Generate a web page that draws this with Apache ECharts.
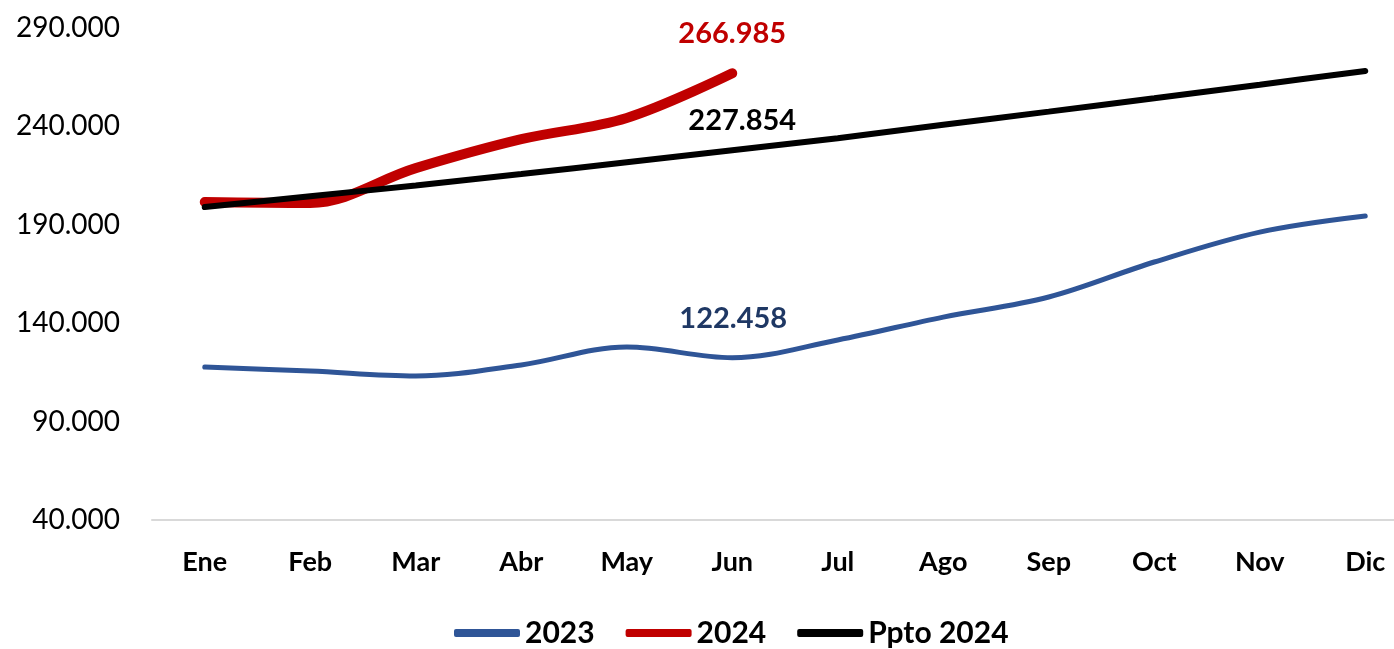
<!DOCTYPE html>
<html>
<head>
<meta charset="utf-8">
<script src="https://cdn.jsdelivr.net/npm/echarts@6/dist/echarts.min.js"></script>
<style>
  html, body { margin: 0; padding: 0; background: #ffffff; }
  #chart { width: 1394px; height: 649px; }
</style>
</head>
<body>
<div id="chart"></div>
<script>
// Monthly categories
const months = ['Ene', 'Feb', 'Mar', 'Abr', 'May', 'Jun', 'Jul', 'Ago', 'Sep', 'Oct', 'Nov', 'Dic'];

// Series values
const values2023 = [117700, 115700, 113200, 118800, 127900, 122458, 131500, 143100, 153300, 171100, 186300, 194500];
const values2024 = [201600, 201100, 218800, 233500, 244300, 266985];
const valuesPpto2024 = [199000, 204500, 210000, 215800, 221800, 227854, 234000, 240800, 247500, 254300, 261200, 268200];

// Value axis ticks
const yTicks = [40000, 90000, 140000, 190000, 240000, 290000];

const labelIndex = 5; // month whose value is written on each line

function fmt(v) {
  return String(Math.round(v)).replace(/\B(?=(\d{3})+(?!\d))/g, '.');
}

function withLabel(values, color, offset) {
  return values.map((v, i) => i === labelIndex ? {
    value: v,
    label: {
      show: true,
      position: 'top',
      offset: offset,
      formatter: p => fmt(p.value),
      color: color,
      fontFamily: 'Lato',
      fontWeight: 'bold',
      fontSize: 29
    }
  } : v);
}

const chart = echarts.init(document.getElementById('chart'), null, { renderer: 'canvas' });

chart.setOption({
  animation: false,
  backgroundColor: '#ffffff',
  grid: { left: 152, top: 28, width: 1266, height: 492, containLabel: false, outerBoundsMode: 'none' },
  legend: {
    top: 613,
    left: 449,
    itemWidth: 66,
    itemHeight: 8,
    itemGap: 31,
    icon: 'roundRect',
    textStyle: { fontFamily: 'Lato', fontWeight: 'bold', fontSize: 30, color: '#000000', padding: [0, 0, 0, 0] },
    data: ['2023', '2024', 'Ppto 2024']
  },
  xAxis: {
    type: 'category',
    data: months,
    boundaryGap: true,
    axisLine: { show: true, lineStyle: { color: '#d9d9d9', width: 2 } },
    axisTick: { show: false },
    axisLabel: {
      margin: 29,
      fontFamily: 'Lato',
      fontWeight: 'bold',
      fontSize: 27,
      color: '#000000'
    },
    splitLine: { show: false }
  },
  yAxis: {
    type: 'value',
    min: yTicks[0],
    max: yTicks[yTicks.length - 1],
    interval: yTicks[1] - yTicks[0],
    axisLine: { show: false },
    axisTick: { show: false },
    splitLine: { show: false },
    axisLabel: {
      margin: 32,
      fontFamily: 'Lato',
      fontSize: 28,
      color: '#000000',
      formatter: v => fmt(v)
    }
  },
  series: [
    {
      name: '2023',
      type: 'line',
      smooth: 0.35,
      symbol: 'circle',
      symbolSize: 1,
      showSymbol: true,
      data: withLabel(values2023, '#1f3864', [1, -19]),
      lineStyle: { color: '#2f5597', width: 5, cap: 'round' },
      itemStyle: { color: '#2f5597' },
      z: 2
    },
    {
      name: '2024',
      type: 'line',
      smooth: 0.35,
      symbol: 'circle',
      symbolSize: 1,
      showSymbol: true,
      data: withLabel(values2024, '#c00000', [0, -20]),
      lineStyle: { color: '#c00000', width: 10, cap: 'round' },
      itemStyle: { color: '#c00000' },
      z: 3
    },
    {
      name: 'Ppto 2024',
      type: 'line',
      smooth: 0.35,
      symbol: 'circle',
      symbolSize: 1,
      showSymbol: true,
      data: withLabel(valuesPpto2024, '#000000', [10, -10]),
      lineStyle: { color: '#000000', width: 6, cap: 'round' },
      itemStyle: { color: '#000000' },
      z: 4
    }
  ]
});
</script>
</body>
</html>
